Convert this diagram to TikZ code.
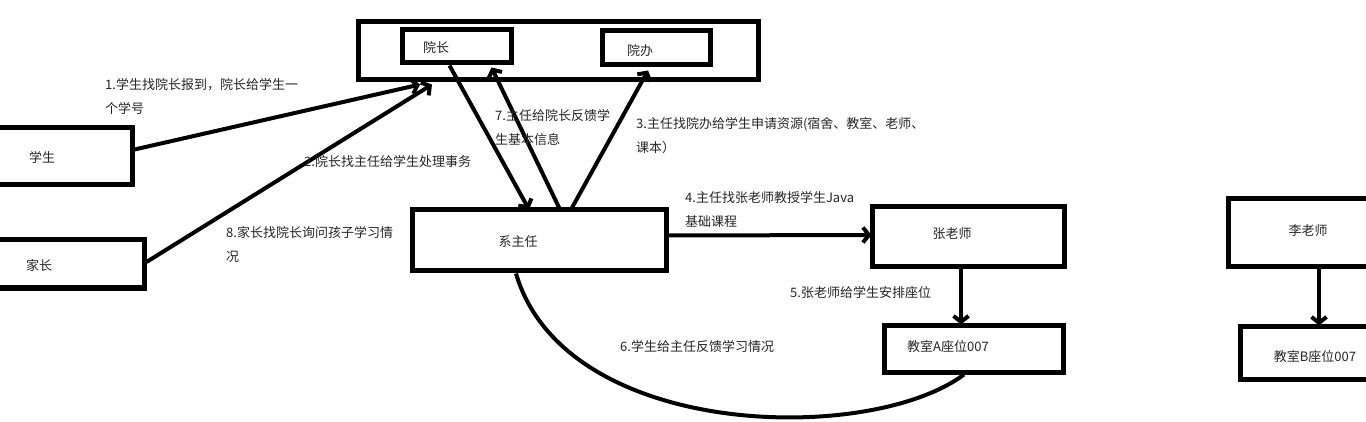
\documentclass[tikz,border=0pt]{standalone}
\usepackage{fontspec}
\newfontfamily\cjk{Noto Sans CJK SC}
\usetikzlibrary{arrows.meta,calc}
\definecolor{txt}{HTML}{262626}
\tikzset{
  box/.style={draw=black,line width=5pt,rectangle,inner sep=0pt},
  lbl/.style={font=\cjk\fontsize{13}{24}\selectfont,text=txt,anchor=west,align=left,inner sep=0pt},
  conn/.style={line width=4pt,-{Straight Barb[length=6pt,width=15pt]}},
  plain/.style={line width=4pt}
}
\begin{document}
\begin{tikzpicture}[x=1pt,y=-1pt]
\useasboundingbox (0,0) rectangle (1366,422);
\clip (0,0) rectangle (1366,422);
\fill[white] (0,0) rectangle (1366,422);
% boxes
\node[box,minimum width=400pt,minimum height=58pt] (outer) at (558,51) {};
\node[box,minimum width=109pt,minimum height=33pt] (yz) at (456.5,46.5) {};
\node[box,minimum width=108pt,minimum height=34pt] (yb) at (656,48) {};
\node[box,minimum width=142pt,minimum height=57pt] (xs) at (61,156.5) {};
\node[box,minimum width=154pt,minimum height=48pt] (jz) at (67,264) {};
\node[box,minimum width=254pt,minimum height=61pt] (xzr) at (539,240.5) {};
\node[box,minimum width=192pt,minimum height=60pt] (zls) at (968,237) {};
\node[box,minimum width=179pt,minimum height=47pt] (jsA) at (973.5,348.5) {};
\node[box,minimum width=152pt,minimum height=68pt] (lls) at (1304,233) {};
\node[box,minimum width=140pt,minimum height=53pt] (jsB) at (1310,352.5) {};
% box texts
\node[lbl,anchor=center] (tyz) at (436,48) {院长};
\node[lbl,anchor=center] (tyb) at (640,51) {院办};
\node[lbl,anchor=center] (txs) at (42,157) {学生};
\node[lbl,anchor=center] (tjz) at (39,266) {家长};
\node[lbl,anchor=center] (txzr) at (518,242) {系主任};
\node[lbl,anchor=center] (tzls) at (952,234) {张老师};
\node[lbl,anchor=center] (tjsA) at (948,347) {教室A座位007};
\node[lbl,anchor=center] (tlls) at (1308,231) {李老师};
\node[lbl,anchor=center] (tjsB) at (1315,357) {教室B座位007};
% connectors
\draw[conn] ([yshift=7pt]xs.east) -- ([xshift=-138pt,yshift=-2pt]outer.south);
\draw[conn] ([yshift=2pt]jz.east) -- ([xshift=-126pt,yshift=-2pt]outer.south);
\draw[conn] ([xshift=-7pt]yz.south) -- ([xshift=-10pt,yshift=-2pt]xzr.north);
\draw[conn] ([xshift=21pt,yshift=-2pt]xzr.north) -- ([xshift=35pt,yshift=-2pt]yz.south);
\draw[conn] ([xshift=32pt,yshift=-2pt]xzr.north) -- ([xshift=-8pt,yshift=-3pt]yb.south);
\draw[conn] ([yshift=5pt]xzr.east) -- ([xshift=2pt,yshift=2pt]zls.west);
\draw[conn] ([xshift=-7pt]zls.south) -- ([xshift=-7pt,yshift=-2pt]zls.south |- jsA.north);
\draw[conn] ([xshift=15pt]lls.south) -- ([xshift=15pt,yshift=-2pt]lls.south |- jsB.north);
\draw[plain] ([xshift=-23pt]xzr.south) .. controls (565,440) and (870,445) .. ([xshift=-9.5pt]jsA.south);
% labels
\node[lbl] (l1) at (105,96.5) {1.学生找院长报到，院长给学生一\\个学号};
\node[lbl] (l2) at (304,162) {2.院长找主任给学生处理事务};
\node[lbl] (l3) at (636,135.5) {3.主任找院办给学生申请资源(宿舍、教室、老师、\\课本）};
\node[lbl] (l4) at (685,209) {4.主任找张老师教授学生Java\\基础课程};
\node[lbl] (l5) at (790,293) {5.张老师给学生安排座位};
\node[lbl] (l6) at (620,347) {6.学生给主任反馈学习情况};
\node[lbl] (l7) at (495,127.5) {7.主任给院长反馈学\\生基本信息};
\node[lbl] (l8) at (226,245) {8.家长找院长询问孩子学习情\\况};
\end{tikzpicture}
\end{document}
